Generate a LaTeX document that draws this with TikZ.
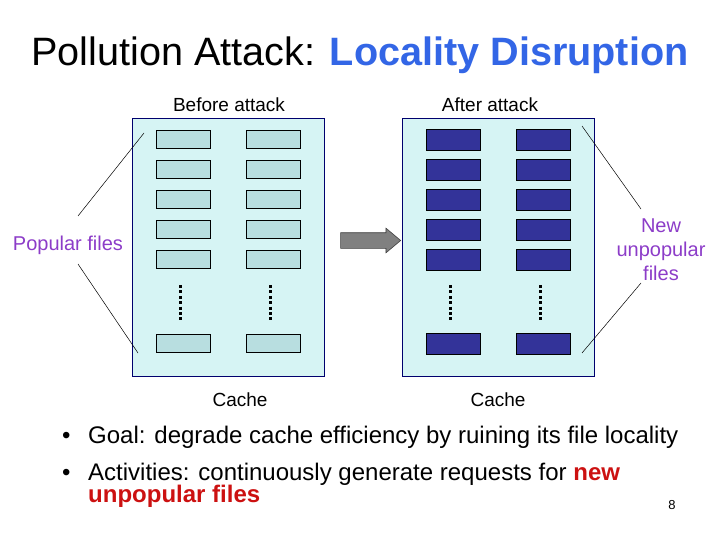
\documentclass[tikz,border=0pt]{standalone}
\usepackage{fontspec}
\setmainfont{Liberation Sans}
\usetikzlibrary{shapes.arrows}
\definecolor{titleblue}{RGB}{51,102,230}
\definecolor{hotred}{RGB}{204,17,17}
\definecolor{labpurple}{RGB}{140,60,200}
\definecolor{cachefill}{RGB}{214,244,244}
\definecolor{cacheedge}{RGB}{0,0,110}
\definecolor{popfill}{RGB}{184,222,224}
\definecolor{unpopfill}{RGB}{51,51,153}
\tikzset{
  cachebox/.style={draw=cacheedge, fill=cachefill, line width=0.8pt, minimum width=192pt, minimum height=258pt, inner sep=0pt},
  popbox/.style={draw=black, fill=popfill, line width=0.6pt, minimum width=54pt, minimum height=18pt, inner sep=0pt},
  unpopbox/.style={draw=black, fill=unpopfill, line width=0.6pt, minimum width=54pt, minimum height=21pt, inner sep=0pt},
  dotcol/.style={line width=3pt, dash pattern=on 3pt off 2.4pt},
  pointer/.style={draw=black, line width=0.5pt},
  lab/.style={font=\fontsize{19}{22}\selectfont, inner sep=0pt},
  side/.style={font=\fontsize{20}{24}\selectfont, text=labpurple, inner sep=0pt, align=center},
  bodytext/.style={font=\fontsize{24}{24}\selectfont, inner sep=0pt, anchor=base west},
}
\begin{document}
\begin{tikzpicture}[x=1pt,y=-1pt]
\useasboundingbox (0,0) rectangle (720,540);
% title
\node[inner sep=0pt, anchor=base west, font=\fontsize{39.6}{40}\selectfont] (title) at (31,66) {Pollution Attack: \textcolor{titleblue}{\bfseries Locality Disruption}};
% caches
\node[cachebox] (cacheA) at (228,247) {};
\node[cachebox] (cacheB) at (498,247) {};
\node[lab, anchor=base] (beforeLab) at (229,112) {Before attack};
\node[lab, anchor=base] (afterLab) at (490,112) {After attack};
\node[lab, anchor=base] (cacheLabA) at (240,406) {Cache};
\node[lab, anchor=base] (cacheLabB) at (498,406) {Cache};
% file boxes
\foreach \r/\y in {1/139,2/169,3/199,4/229,5/259,6/343}{
  \node[popbox] (pa\r) at (183,\y) {};
  \node[popbox] (pb\r) at (273,\y) {};
  \node[unpopbox] (ua\r) at (453,\y+0.5) {};
  \node[unpopbox] (ub\r) at (543,\y+0.5) {};
}
% dotted columns
\foreach \x/\n in {180/da,270/db,450/dc,540/dd}{
  \coordinate (\n top) at (\x,285);
  \coordinate (\n bot) at (\x,322);
  \draw[dotcol] (\n top) -- (\n bot);
}
% arrow
\node[single arrow, draw=black!75, fill=black!50, line width=0.6pt, minimum height=60pt, minimum width=0pt, inner xsep=0pt, inner ysep=7.5pt, single arrow head extend=4.5pt, single arrow tip angle=80, shape border uses incircle=false] (arrow) at (366,240.5) {};
% side labels
\node[side, anchor=base] (popLab) at (68,251) {Popular files};
\node[side] (unpopLab) at (661,250) {New\\unpopular\\files};
\coordinate (popTopEnd) at (78,216);
\coordinate (popTopIn) at (144,133);
\coordinate (popBotEnd) at (78,264);
\coordinate (popBotIn) at (138,353);
\coordinate (unTopEnd) at (641,209);
\coordinate (unTopIn) at (582,126);
\coordinate (unBotEnd) at (641,283);
\coordinate (unBotIn) at (582,353);
\draw[pointer] (popTopEnd) -- (popTopIn);
\draw[pointer] (popBotEnd) -- (popBotIn);
\draw[pointer] (unTopEnd) -- (unTopIn);
\draw[pointer] (unBotEnd) -- (unBotIn);
% bullets
\node[bodytext] (bul1) at (62,443) {•};
\node[bodytext] (goal) at (88,443) {Goal: degrade cache efficiency by ruining its file locality};
\node[bodytext] (bul2) at (62,480) {•};
\node[bodytext] (act) at (88,480) {Activities: continuously generate requests for \textcolor{hotred}{\bfseries new}};
\node[bodytext] (act2) at (88,502) {\textcolor{hotred}{\bfseries unpopular files}};
\node[inner sep=0pt, anchor=base, font=\fontsize{13}{13}\selectfont] (pagenum) at (672,509) {8};
\end{tikzpicture}
\end{document}
